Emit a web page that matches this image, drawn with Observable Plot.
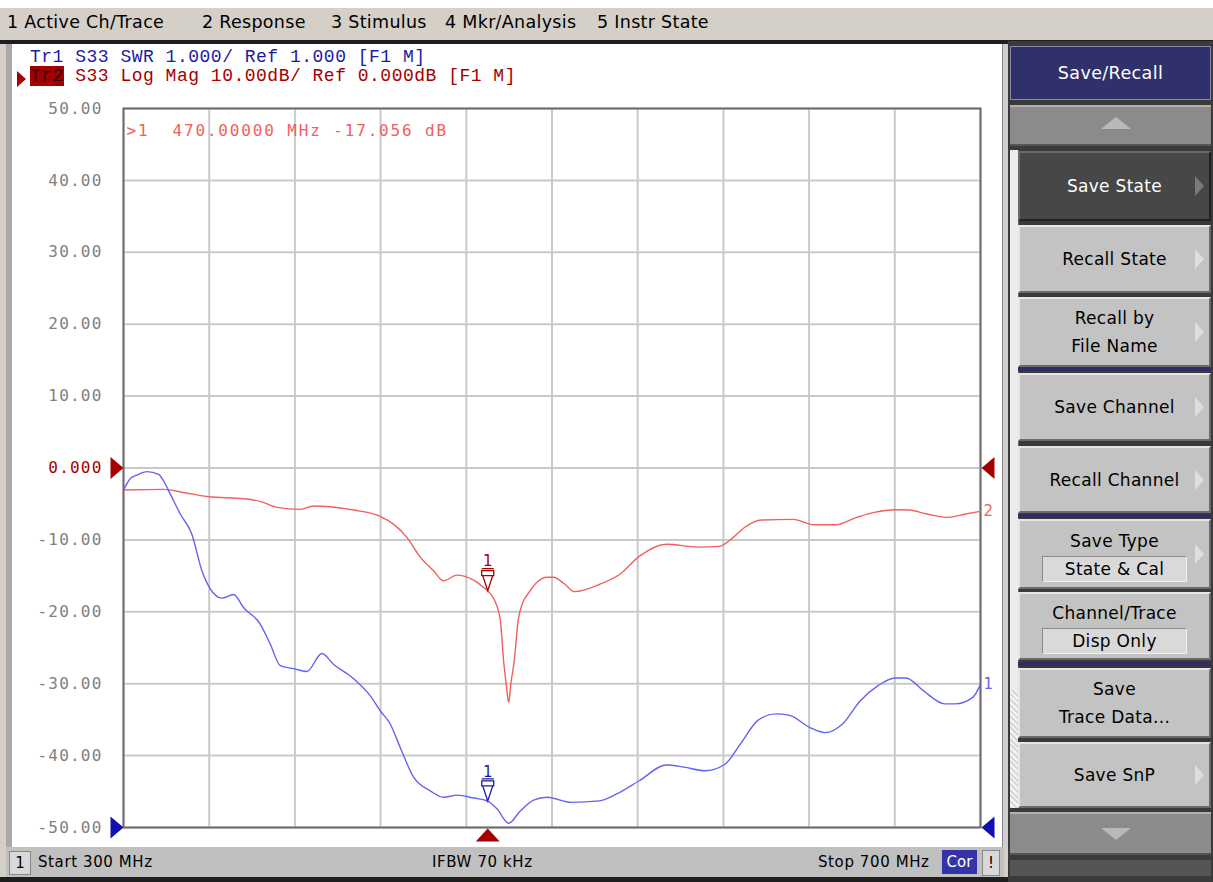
<!DOCTYPE html>
<html><head><meta charset="utf-8">
<script src="https://cdn.jsdelivr.net/npm/d3@7"></script>
<script src="https://cdn.jsdelivr.net/npm/@observablehq/plot@0.6"></script>
<style>
body{margin:0;width:1213px;height:882px;position:relative;overflow:hidden;background:#fff;font-family:"DejaVu Sans",sans-serif;}
.a{position:absolute;}
.menu{position:absolute;font-size:17.5px;letter-spacing:0.3px;color:#000;white-space:nowrap;}
.mono{font-family:"Liberation Mono",monospace;font-size:18px;letter-spacing:0.5px;white-space:nowrap;}
.btn{position:absolute;left:1018px;width:193px;box-sizing:border-box;background:#c3c3c3;border-top:2px solid #e6e6e6;border-left:2px solid #e6e6e6;border-bottom:2px solid #6a6a6a;border-right:2px solid #6a6a6a;color:#000;font-size:17px;letter-spacing:0.3px;text-align:center;display:flex;flex-direction:column;justify-content:center;align-items:center;line-height:28px;}
.btn.dark{background:#474747;color:#fff;border-top-color:#6a6a6a;border-left-color:#6a6a6a;border-bottom-color:#222;border-right-color:#222;}
.chev{position:absolute;right:5px;top:50%;margin-top:-10px;width:0;height:0;border-left:9px solid #dedede;border-top:10px solid transparent;border-bottom:10px solid transparent;}
.btn.dark .chev{border-left-color:#7a7a7a;}
.sub{background:#d9d9d9;border-top:1px solid #8a8a8a;border-left:1px solid #8a8a8a;border-bottom:1px solid #f0f0f0;border-right:1px solid #f0f0f0;width:143px;line-height:24px;margin-top:1px;}
.sep{position:absolute;left:1018px;width:193px;height:4px;background:#2e2e62;}
.stat{position:absolute;top:853px;font-size:15px;letter-spacing:0.6px;color:#000;white-space:nowrap;}
</style></head>
<body>
<div id="app"></div>
<script>
// ---- data ----
const startMHz = 300, stopMHz = 700;
const xTicks = [300, 340, 380, 420, 460, 500, 540, 580, 620, 660, 700];
const yTicks = [50, 40, 30, 20, 10, 0, -10, -20, -30, -40, -50];
const yTickLabels = ["50.00", "40.00", "30.00", "20.00", "10.00", "0.000", "-10.00", "-20.00", "-30.00", "-40.00", "-50.00"];

// Tr2: S33 Log Mag (dB)
const redFreq = [300, 318.7, 328, 340, 356, 363.8, 371.6, 382.5, 388.7, 396.5, 407.4, 419.5, 426, 432.3, 438.5, 444.7, 449.4, 455.6, 463.4, 468.9, 470, 473, 475.9, 477.4, 478.8, 479.8, 480.8, 482.4, 484.2, 486, 489.3, 493, 497.7, 500.8, 505.7, 510.6, 522.1, 532, 540.7, 553.4, 568.2, 578, 584.6, 589.5, 597.8, 612.6, 622.4, 632.3, 642.2, 650.4, 660.3, 666.8, 675, 684.9, 693.1, 700];
const redDb = [-3.06, -2.97, -3.4, -4.0, -4.27, -4.64, -5.47, -5.75, -5.29, -5.38, -5.85, -6.68, -7.8, -9.65, -12.4, -14.3, -15.7, -14.9, -15.6, -16.8, -17.06, -18.3, -21.2, -26.8, -30.5, -32.6, -30.0, -26.8, -21.2, -19.0, -17.3, -15.9, -15.2, -15.2, -16.1, -17.2, -16.2, -14.7, -12.3, -10.6, -11.0, -10.9, -9.65, -8.35, -7.23, -7.15, -7.9, -7.9, -6.87, -6.17, -5.8, -5.85, -6.4, -6.87, -6.4, -6.03];

// Tr1: S33 SWR (1.000 / div, ref 1.000 at bottom line)
const blueFreq = [300, 303.1, 306.2, 310.9, 316.4, 318.7, 321.8, 326.5, 331.9, 336.6, 340.5, 346, 351.4, 356, 363.8, 368.5, 373.2, 379.4, 385.6, 392.6, 398, 407.4, 415.2, 419.9, 424.5, 429.2, 435.4, 443.2, 449.4, 455.7, 463.4, 469.7, 474.3, 479.8, 485.2, 491.4, 497.7, 509, 522.1, 530.4, 540.7, 553.4, 561.6, 571.5, 580.7, 587.9, 596.1, 604.3, 610.9, 620.4, 627.4, 635.6, 643.8, 652, 660.2, 665.2, 673.4, 683.3, 688.2, 696.4, 700];
const blueSwr = [5.69, 5.85, 5.90, 5.95, 5.91, 5.82, 5.64, 5.36, 5.08, 4.57, 4.32, 4.19, 4.24, 4.06, 3.83, 3.55, 3.25, 3.21, 3.17, 3.42, 3.27, 3.07, 2.83, 2.62, 2.44, 2.11, 1.70, 1.51, 1.42, 1.45, 1.41, 1.37, 1.26, 1.06, 1.23, 1.38, 1.42, 1.35, 1.37, 1.47, 1.65, 1.87, 1.84, 1.79, 1.88, 2.16, 2.49, 2.58, 2.56, 2.39, 2.32, 2.44, 2.76, 2.97, 3.08, 3.08, 2.90, 2.72, 2.72, 2.81, 2.99];

const markerMHz = 470, markerDb = -17.06, markerSwr = 1.37;
const readout = ">1  470.00000 MHz -17.056 dB";
const header1 = "Tr1 S33 SWR 1.000/ Ref 1.000 [F1 M]";
const header2 = " S33 Log Mag 10.00dB/ Ref 0.000dB [F1 M]";
const menuItems = ["1 Active Ch/Trace", "2 Response", "3 Stimulus", "4 Mkr/Analysis", "5 Instr State"];
const statusTexts = ["Start 300 MHz", "IFBW 70 kHz", "Stop 700 MHz"];
const softkeys = [["Save State"], ["Recall State"], ["Recall by", "File Name"], ["Save Channel"], ["Recall Channel"], ["Save Type"], ["Channel/Trace"], ["Save", "Trace Data..."], ["Save SnP"]];
const softkeySubs = [null, null, null, null, null, "State & Cal", "Disp Only", null, null];

// ---- build ----
const RED = "#f2605e", DRED = "#a40000", BLUE = "#6464f0", DBLUE = "#1c1ca0";
const swrToY = s => -50 + (s - 1) * 10;
const red = redFreq.map((f, i) => ({f, v: redDb[i]}));
const blue = blueFreq.map((f, i) => ({f, v: swrToY(blueSwr[i])}));
const fmt = d => yTickLabels[yTicks.indexOf(d)];

const tri = pts => ({draw(c) { c.moveTo(pts[0][0], pts[0][1]); for (const p of pts.slice(1)) c.lineTo(p[0], p[1]); c.closePath(); }});
const triR = tri([[0, 0], [-13, -11], [-13, 11]]);
const triL = tri([[1, 0], [14, -11], [14, 11]]);
const triU = tri([[0, 1], [-12, 14], [12, 14]]);
const mkSym = {draw(c) {
  c.moveTo(-6, -22); c.lineTo(6, -22);
  c.moveTo(-6, -20); c.lineTo(6, -20); c.lineTo(6, -15); c.lineTo(-6, -15); c.closePath();
  c.moveTo(-5, -15); c.lineTo(5, -15); c.lineTo(0, 0); c.closePath();
}};

const chart = Plot.plot({
  width: 993, height: 806,
  marginLeft: 111, marginRight: 25, marginTop: 64, marginBottom: 23,
  x: {domain: [startMHz, stopMHz], axis: null, label: null},
  y: {domain: [-50, 50], axis: null, label: null},
  style: {background: "transparent", fontFamily: "DejaVu Sans Mono", overflow: "visible"},
  marks: [
    Plot.gridX(xTicks, {stroke: "#c9c9c9", strokeOpacity: 1, strokeWidth: 2}),
    Plot.gridY(yTicks, {stroke: "#c9c9c9", strokeOpacity: 1, strokeWidth: 2}),
    Plot.frame({stroke: "#6c6c6c", strokeWidth: 2}),
    Plot.axisY(yTicks.filter(d => d !== 0), {anchor: "left", label: null, tickSize: 0, tickPadding: 21, tickFormat: fmt, color: "#808080", fontSize: 16}),
    Plot.axisY([0], {anchor: "left", label: null, tickSize: 0, tickPadding: 21, tickFormat: fmt, color: DRED, fontSize: 16}),
    Plot.line(red, {x: "f", y: "v", stroke: RED, strokeWidth: 1.4, curve: "monotone-x"}),
    Plot.line(blue, {x: "f", y: "v", stroke: BLUE, strokeWidth: 1.4, curve: "monotone-x"}),
    Plot.text([red[red.length - 1]], {x: "f", y: "v", text: () => "2", dx: 3, textAnchor: "start", fill: RED, fontSize: 15, fontFamily: "DejaVu Sans"}),
    Plot.text([blue[blue.length - 1]], {x: "f", y: "v", text: () => "1", dx: 3, textAnchor: "start", fill: BLUE, fontSize: 15, fontFamily: "DejaVu Sans"}),
    Plot.dot([{f: markerMHz, v: markerDb}], {x: "f", y: "v", symbol: mkSym, r: 5, stroke: DRED, fill: "white", fillOpacity: 0, strokeWidth: 1.3}),
    Plot.text([{f: markerMHz, v: markerDb}], {x: "f", y: "v", text: () => "1", dy: -29, fill: DRED, fontSize: 15, fontFamily: "DejaVu Sans"}),
    Plot.dot([{f: markerMHz, v: swrToY(markerSwr)}], {x: "f", y: "v", symbol: mkSym, r: 5, stroke: DBLUE, fill: "white", fillOpacity: 0, strokeWidth: 1.3}),
    Plot.text([{f: markerMHz, v: swrToY(markerSwr)}], {x: "f", y: "v", text: () => "1", dy: -29, fill: DBLUE, fontSize: 15, fontFamily: "DejaVu Sans"}),
    Plot.dot([{f: startMHz, v: 0}], {x: "f", y: "v", symbol: triR, r: 5, fill: DRED, stroke: "none"}),
    Plot.dot([{f: stopMHz, v: 0}], {x: "f", y: "v", symbol: triL, r: 5, fill: DRED, stroke: "none"}),
    Plot.dot([{f: startMHz, v: -50}], {x: "f", y: "v", symbol: triR, r: 5, fill: "#1010b0", stroke: "none"}),
    Plot.dot([{f: stopMHz, v: -50}], {x: "f", y: "v", symbol: triL, r: 5, fill: "#1010b0", stroke: "none"}),
    Plot.dot([{f: markerMHz, v: -50}], {x: "f", y: "v", symbol: triU, r: 5, fill: DRED, stroke: "none"}),
    Plot.text([readout], {frameAnchor: "top-left", text: d => d, dx: 3, dy: 16, fill: RED, fontSize: 16, fontFamily: "DejaVu Sans Mono", textAnchor: "start"})
  ]
});
// letter spacing to match the instrument's wide monospace glyphs
d3.select(chart).selectAll("text").each(function() {
  const t = this.textContent;
  if (t === readout) this.style.letterSpacing = "1.85px";
  else if (yTickLabels.includes(t)) this.style.letterSpacing = "1.2px";
});

const app = document.getElementById("app");
const add = (html) => { app.insertAdjacentHTML("beforeend", html); };

// menu bar
add(`<div class="a" style="left:0;top:8px;width:1213px;height:33px;background:#d4d0c8"></div>`);
const menuX = [7, 202, 331, 445, 597];
menuItems.forEach((m, i) => add(`<div class="menu" style="left:${menuX[i]}px;top:12px">${m}</div>`));
add(`<div class="a" style="left:0;top:40px;width:1213px;height:4px;background:#1e1e1e"></div>`);

// chart panel
add(`<div class="a" style="left:0;top:44px;width:1008px;height:838px;background:#d4d0c8"></div>`);
add(`<div class="a" style="left:6px;top:44px;width:6px;height:803px;background:#a9a9a9"></div>`);
add(`<div class="a" style="left:12px;top:44px;width:990px;height:803px;background:#fff"></div>`);
add(`<div class="a" style="left:1002px;top:44px;width:6px;height:803px;background:#cfcfcf;border-left:1px solid #888"></div>`);
const holder = document.createElement("div");
holder.className = "a"; holder.style.left = "12px"; holder.style.top = "44px";
holder.appendChild(chart);
app.appendChild(holder);

// trace headers
add(`<div class="a mono" style="left:30px;top:47px;color:${DBLUE}">${header1}</div>`);
add(`<div class="a" style="left:17px;top:71px;width:0;height:0;border-left:9px solid ${DRED};border-top:8px solid transparent;border-bottom:8px solid transparent"></div>`);
add(`<div class="a mono" style="left:30px;top:66px;color:${DRED}"><span style="background:${DRED};color:#2a0000">Tr2</span>${header2}</div>`);

// status bar
add(`<div class="a" style="left:6px;top:847px;width:998px;height:30px;background:#c0c0c0"></div>`);
add(`<div class="a" style="left:0;top:877px;width:1213px;height:5px;background:#1e1e1e"></div>`);
add(`<div class="a" style="left:9px;top:851px;width:20px;height:22px;background:#d8d8d8;border:1px solid #888;font-size:15px;text-align:center;line-height:22px">1</div>`);
add(`<div class="stat" style="left:38px">${statusTexts[0]}</div>`);
add(`<div class="stat" style="left:432px">${statusTexts[1]}</div>`);
add(`<div class="stat" style="left:818px">${statusTexts[2]}</div>`);
add(`<div class="a" style="left:942px;top:850px;width:35px;height:24px;background:#3434a8;color:#fff;font-size:15px;text-align:center;line-height:24px">Cor</div>`);
add(`<div class="a" style="left:982px;top:850px;width:16px;height:24px;background:#d8d8d8;border:1px solid #888;font-size:15px;text-align:center;line-height:24px">!</div>`);

// right softkey panel
add(`<div class="a" style="left:1008px;top:41px;width:205px;height:841px;background:#3a3a3a"></div>`);
add(`<div class="a" style="left:1010px;top:46px;width:201px;height:54px;background:#30306a;border:1px solid #8888aa;box-sizing:border-box;color:#fff;font-size:17.5px;letter-spacing:0.4px;text-align:center;line-height:52px">Save/Recall</div>`);
add(`<div class="a" style="left:1010px;top:105px;width:201px;height:41px;background:#8b8b8b;border-top:2px solid #b0b0b0;border-bottom:2px solid #555;box-sizing:border-box"></div>`);
add(`<div class="a" style="left:1101px;top:117px;width:0;height:0;border-bottom:12px solid #b9b9b9;border-left:15px solid transparent;border-right:15px solid transparent"></div>`);
add(`<div class="a" style="left:1010px;top:150px;width:8px;height:540px;background:#ececec;border-right:1px solid #666"></div>`);
add(`<div class="a" style="left:1010px;top:690px;width:8px;height:118px;background:repeating-linear-gradient(45deg,#d8d8d8 0 2px,#f4f4f4 2px 4px)"></div>`);
const keyTops = [151, 225, 297, 373, 446, 519, 592, 668, 742];
const keyHeights = [70, 68, 70, 68, 67, 70, 68, 70, 66];
const chevs = [true, true, true, true, true, true, false, false, true];
softkeys.forEach((k, i) => {
  const sub = softkeySubs[i] ? `<div class="sub">${softkeySubs[i]}</div>` : "";
  add(`<div class="btn${i === 0 ? " dark" : ""}" style="top:${keyTops[i]}px;height:${keyHeights[i]}px">${k.map(s => `<div>${s}</div>`).join("")}${sub}${chevs[i] ? '<div class="chev"></div>' : ""}</div>`);
});
[367, 514, 662].forEach(t => add(`<div class="sep" style="top:${t}px"></div>`));
add(`<div class="a" style="left:1010px;top:812px;width:201px;height:43px;background:#8b8b8b;border-top:2px solid #b0b0b0;border-bottom:2px solid #555;box-sizing:border-box"></div>`);
add(`<div class="a" style="left:1101px;top:828px;width:0;height:0;border-top:12px solid #b9b9b9;border-left:15px solid transparent;border-right:15px solid transparent"></div>`);
add(`<div class="a" style="left:1010px;top:860px;width:201px;height:16px;background:#555"></div>`);
</script>
</body></html>
